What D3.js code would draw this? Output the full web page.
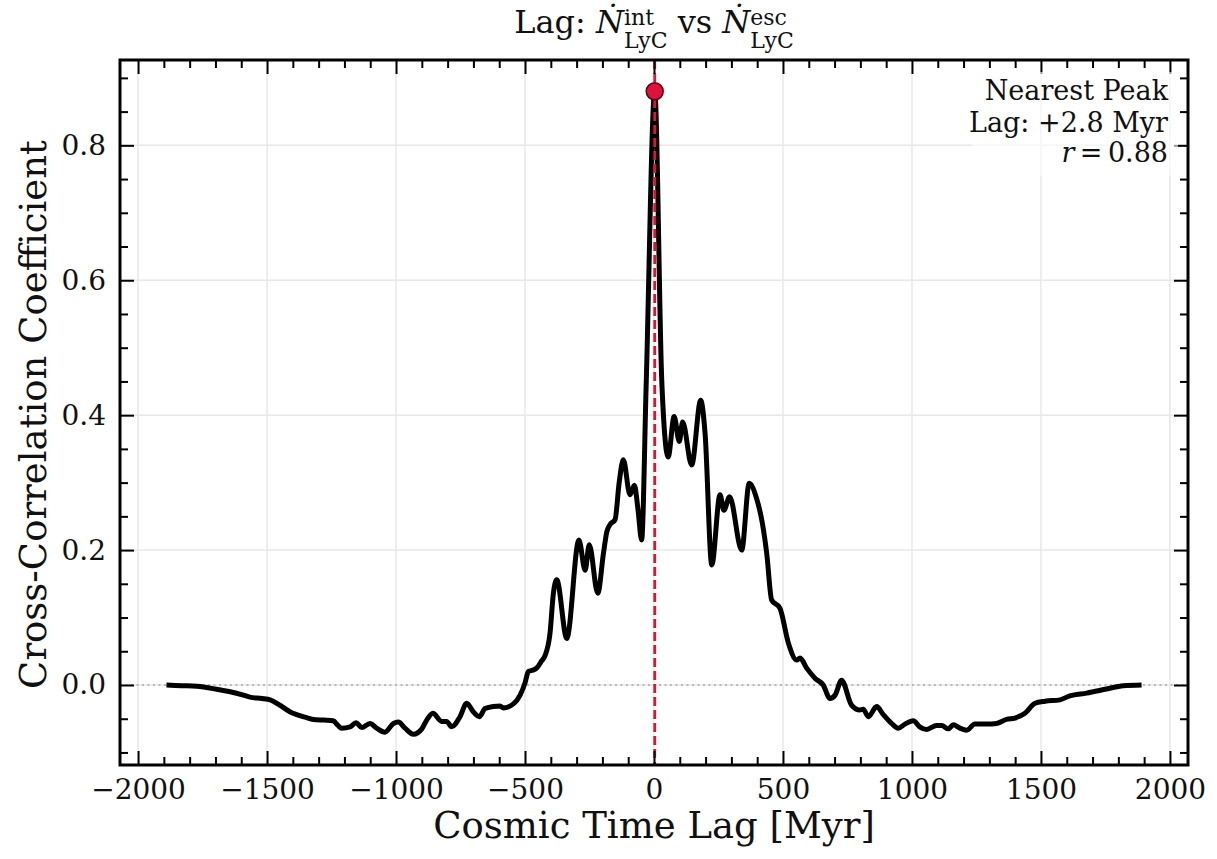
<!DOCTYPE html>
<html>
<head>
<meta charset="utf-8">
<script src="https://cdn.jsdelivr.net/npm/d3@7"></script>
<style>
  body { margin: 0; background: #fff; }
  text { font-family: "DejaVu Serif", serif; fill: #111; white-space: pre; }
</style>
</head>
<body>
<div id="chart"></div>
<script>
// Data: lag [Myr] and cross-correlation coefficient
const lagMyr = [
  -1890, -1830, -1772, -1700, -1643, -1592, -1566, -1520, -1488, -1450,
  -1410, -1385, -1350, -1320, -1280, -1243, -1225, -1211, -1178, -1155,
  -1133, -1101, -1075, -1043, -1010, -991, -965, -933, -900, -881,
  -857, -823, -804, -784, -752, -726, -700, -677, -655, -623,
  -597, -584, -545, -519, -500, -487, -470, -455, -435, -422,
  -403, -390, -377, -338, -291, -267, -251, -218, -196, -183,
  -170, -151, -135, -119, -93, -76, -62, -48, -30, 2.8,
  30, 55, 78, 98, 111, 146, 181, 198, 224, 256,
  271, 293, 340, 369, 398, 420, 437, 456, 488, 521,
  553, 566, 592, 624, 656, 682, 702, 727, 766, 798,
  811, 831, 863, 889, 921, 947, 973, 1005, 1030, 1057,
  1095, 1115, 1141, 1160, 1186, 1212, 1244, 1289, 1328, 1367,
  1399, 1438, 1477, 1516, 1574, 1612, 1677, 1754, 1819, 1890
];
const corrCoef = [
  0.000, -0.001, -0.002, -0.006, -0.010, -0.015, -0.018, -0.020, -0.022, -0.030,
  -0.040, -0.044, -0.048, -0.051, -0.052, -0.053, -0.060, -0.064, -0.062, -0.056,
  -0.063, -0.057, -0.064, -0.070, -0.057, -0.055, -0.064, -0.073, -0.065, -0.052,
  -0.042, -0.054, -0.054, -0.062, -0.047, -0.027, -0.040, -0.047, -0.035, -0.032,
  -0.031, -0.034, -0.028, -0.015, 0.003, 0.020, 0.022, 0.025, 0.036, 0.044,
  0.077, 0.136, 0.156, 0.069, 0.215, 0.170, 0.208, 0.136, 0.195, 0.227,
  0.238, 0.245, 0.300, 0.334, 0.282, 0.296, 0.260, 0.215, 0.450, 0.880,
  0.452, 0.338, 0.398, 0.361, 0.390, 0.326, 0.422, 0.373, 0.178, 0.282,
  0.259, 0.279, 0.200, 0.299, 0.276, 0.240, 0.195, 0.126, 0.114, 0.062,
  0.037, 0.040, 0.025, 0.010, 0.000, -0.020, -0.015, 0.007, -0.030, -0.037,
  -0.036, -0.047, -0.032, -0.044, -0.057, -0.064, -0.058, -0.053, -0.062, -0.066,
  -0.060, -0.060, -0.065, -0.059, -0.064, -0.067, -0.058, -0.058, -0.057, -0.051,
  -0.049, -0.042, -0.027, -0.024, -0.022, -0.016, -0.012, -0.006, -0.001, 0.000
];
const xTicks = [-2000, -1500, -1000, -500, 0, 500, 1000, 1500, 2000];
const yTicks = [0.0, 0.2, 0.4, 0.6, 0.8];
const peakLag = 2.8;
const peakR = 0.88;
const noteLines = ["Nearest Peak", "Lag: +2.8 Myr"];

const W = 1217, H = 859;
const MARGIN = { top: 60, right: 29, bottom: 94, left: 120 };
const PW = W - MARGIN.left - MARGIN.right;
const PH = H - MARGIN.top - MARGIN.bottom;

const svg = d3.select("#chart").append("svg")
  .attr("width", W).attr("height", H);

const g = svg.append("g").attr("transform", `translate(${MARGIN.left},${MARGIN.top})`);

const x = d3.scaleLinear().domain([-2070, 2070]).range([0, PW]);
const y = d3.scaleLinear().domain([-0.1186, 0.9265]).range([PH, 0]);

const data = lagMyr.map((l, i) => ({ lag: l, r: corrCoef[i] }));

// grid
g.append("g").selectAll("line").data(xTicks).join("line")
  .attr("x1", d => x(d)).attr("x2", d => x(d))
  .attr("y1", 0).attr("y2", PH)
  .attr("stroke", "#e8e8e8").attr("stroke-width", 1.5);
g.append("g").selectAll("line").data(yTicks).join("line")
  .attr("x1", 0).attr("x2", PW)
  .attr("y1", d => y(d)).attr("y2", d => y(d))
  .attr("stroke", "#e8e8e8").attr("stroke-width", 1.5);

// zero line
g.append("line")
  .attr("x1", 0).attr("x2", PW)
  .attr("y1", y(0)).attr("y2", y(0))
  .attr("stroke", "#a8a8a8").attr("stroke-width", 1.5)
  .attr("stroke-dasharray", "2,3.5");

// curve
const line = d3.line()
  .x(d => x(d.lag))
  .y(d => y(d.r))
  .curve(d3.curveMonotoneX);

g.append("path")
  .datum(data)
  .attr("fill", "none")
  .attr("stroke", "#000")
  .attr("stroke-width", 5)
  .attr("stroke-linejoin", "round")
  .attr("d", line);

// peak line + marker
g.append("line")
  .attr("x1", x(peakLag)).attr("x2", x(peakLag))
  .attr("y1", 0).attr("y2", PH)
  .attr("stroke", "#dc143c").attr("stroke-width", 2.8)
  .attr("stroke-dasharray", "9,4");

g.append("circle")
  .attr("cx", x(peakLag)).attr("cy", y(peakR))
  .attr("r", 8.5)
  .attr("fill", "#dc143c")
  .attr("stroke", "#5a0010").attr("stroke-width", 1.5);

// axes
const minorX = d3.range(-2000, 2001, 100).filter(v => v % 500 !== 0);
const minorY = d3.range(-0.1, 0.91, 0.05).map(v => +v.toFixed(2)).filter(v => Math.abs(v * 5 - Math.round(v * 5)) > 1e-6);

function styleAxis(sel) {
  sel.select(".domain").remove();
  sel.selectAll(".tick line").attr("stroke", "#000").attr("stroke-width", 2);
  sel.selectAll(".tick text").attr("font-size", 28).attr("fill", "#111")
    .style("font-family", "'DejaVu Serif', serif");
}

g.append("g").attr("transform", `translate(0,${PH})`)
  .call(d3.axisBottom(x).tickValues(xTicks).tickSize(-14).tickPadding(14).tickFormat(d3.format("d")))
  .call(styleAxis);
g.append("g").attr("transform", `translate(0,${PH})`)
  .call(d3.axisBottom(x).tickValues(minorX).tickSize(-8).tickFormat(""))
  .call(styleAxis);
g.append("g")
  .call(d3.axisTop(x).tickValues(xTicks).tickSize(-14).tickFormat(""))
  .call(styleAxis);
g.append("g")
  .call(d3.axisTop(x).tickValues(minorX).tickSize(-8).tickFormat(""))
  .call(styleAxis);

g.append("g")
  .call(d3.axisLeft(y).tickValues(yTicks).tickSize(-14).tickPadding(14).tickFormat(d3.format(".1f")))
  .call(styleAxis);
g.append("g")
  .call(d3.axisLeft(y).tickValues(minorY).tickSize(-8).tickFormat(""))
  .call(styleAxis);
g.append("g").attr("transform", `translate(${PW},0)`)
  .call(d3.axisRight(y).tickValues(yTicks).tickSize(-14).tickFormat(""))
  .call(styleAxis);
g.append("g").attr("transform", `translate(${PW},0)`)
  .call(d3.axisRight(y).tickValues(minorY).tickSize(-8).tickFormat(""))
  .call(styleAxis);

// frame
g.append("rect")
  .attr("width", PW).attr("height", PH)
  .attr("fill", "none").attr("stroke", "#000").attr("stroke-width", 3);

// annotation box
const noteX = PW - 20;
const note = g.append("g");
note.append("rect")
  .attr("x", noteX - 196).attr("y", 12).attr("width", 206).attr("height", 104)
  .attr("rx", 4)
  .attr("fill", "#fff").attr("fill-opacity", 0.6);
noteLines.forEach((t, i) => {
  note.append("text")
    .attr("x", noteX).attr("y", 40 + i * 32)
    .attr("text-anchor", "end").attr("font-size", 27)
    .text(t);
});
const rText = note.append("text")
  .attr("x", noteX).attr("y", 102)
  .attr("text-anchor", "end").attr("font-size", 27);
rText.append("tspan").attr("font-style", "italic").text("r");
rText.append("tspan").text("\u2009=\u20090.88");

// axis labels
svg.append("text")
  .attr("x", MARGIN.left + x(0)).attr("y", 838)
  .attr("text-anchor", "middle").attr("font-size", 37)
  .text("Cosmic Time Lag [Myr]");
svg.append("text")
  .attr("transform", `translate(46,${MARGIN.top + PH / 2 + 2}) rotate(-90)`)
  .attr("text-anchor", "middle").attr("font-size", 37)
  .text("Cross-Correlation Coefficient");

// title with math parts
const title = svg.append("g");
const parts = [
  { t: "Lag: ", size: 32, dy: 0 },
  { t: "N\u0307", size: 32, dy: 0, italic: true },
  { t: "int", size: 22, dy: -8, stackWith: "LyC" },
  { t: " vs ", size: 32, dy: 0 },
  { t: "N\u0307", size: 32, dy: 0, italic: true },
  { t: "esc", size: 22, dy: -8, stackWith: "LyC" }
];
let cx = 0;
const baseY = 33;
parts.forEach(p => {
  const t = title.append("text")
    .attr("x", cx).attr("y", baseY + p.dy)
    .attr("font-size", p.size)
    .attr("font-style", p.italic ? "italic" : "normal")
    .text(p.t);
  let w = t.node().getComputedTextLength();
  if (p.stackWith) {
    const s = title.append("text")
      .attr("x", cx).attr("y", baseY + 15)
      .attr("font-size", p.size)
      .text(p.stackWith);
    w = Math.max(w, s.node().getComputedTextLength());
  }
  cx += w;
});
title.attr("transform", `translate(${MARGIN.left + x(0) - cx / 2},0)`);
</script>
</body>
</html>
